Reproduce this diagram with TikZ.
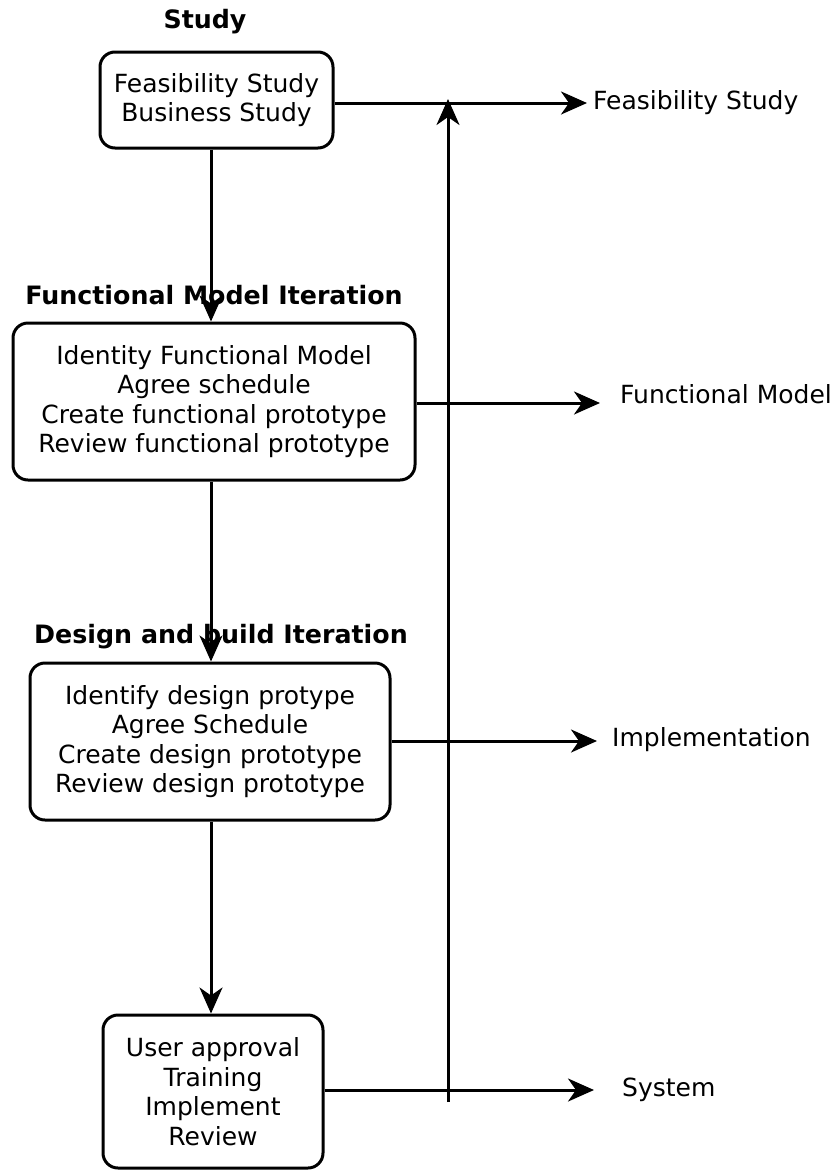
\documentclass[tikz,border=0pt]{standalone}
\usepackage{fontspec}
\setmainfont{DejaVu Sans}
\usetikzlibrary{arrows.meta}
\begin{document}
\begin{tikzpicture}[x=1pt,y=-1pt,
  phase/.style={draw,line width=3pt,rounded corners=15pt,align=center,
    inner sep=0pt,font=\fontsize{25}{29.5}\selectfont},
  title/.style={font=\bfseries\fontsize{25.3}{29}\selectfont},
  outlabel/.style={anchor=west,inner sep=0pt,font=\fontsize{25}{29.5}\selectfont},
  flow/.style={line width=3pt,-{Stealth[length=26pt,width=23pt,inset=8pt]}}]
\useasboundingbox (0,0) rectangle (840,1171);

% phase boxes
\node[phase,minimum width=233pt,minimum height=96pt] (b1) at (216.5,100)
  {Feasibility Study\\Business Study};
\node[phase,minimum width=402pt,minimum height=157pt] (b2) at (214,401.5)
  {Identity Functional Model\\Agree schedule\\Create functional prototype\\Review functional prototype};
\node[phase,minimum width=360pt,minimum height=157pt] (b3) at (210,741.5)
  {Identify design protype\\Agree Schedule\\Create design prototype\\Review design prototype};
\node[phase,minimum width=220pt,minimum height=153pt] (b4) at (213,1091.5)
  {User approval\\Training\\Implement\\Review};

% phase titles
\node[title] (t1) at (205,22) {Study};
\node[title] (t2) at (214,295) {Functional Model Iteration};
\node[title] (t3) at (221,637) {Design and build Iteration};

% deliverables
\node[outlabel] (o1) at (593,103) {Feasibility Study};
\node[outlabel] (o2) at (620,394) {Functional Model};
\node[outlabel] (o3) at (612,740) {Implementation};
\node[outlabel] (o4) at (622,1090) {System};

% arrow end points
\coordinate (spine) at (211,0);
\coordinate (e1) at (587,103);
\coordinate (e2) at (600,403);
\coordinate (e3) at (597,741);
\coordinate (e4) at (594,1090);
\coordinate (rb) at (448,1102);
\coordinate (rt) at (448,99);

% downward flow between phases
\draw[flow] (b1.south -| spine) -- (b2.north -| spine);
\draw[flow] (b2.south -| spine) -- (b3.north -| spine);
\draw[flow] (b3.south -| spine) -- (b4.north -| spine);

% outputs of each phase
\draw[flow] (b1.east |- e1) -- (e1);
\draw[flow] (b2.east |- e2) -- (e2);
\draw[flow] (b3.east |- e3) -- (e3);
\draw[flow] (b4.east |- e4) -- (e4);

% feedback line
\draw[flow] (rb) -- (rt);
\end{tikzpicture}
\end{document}
